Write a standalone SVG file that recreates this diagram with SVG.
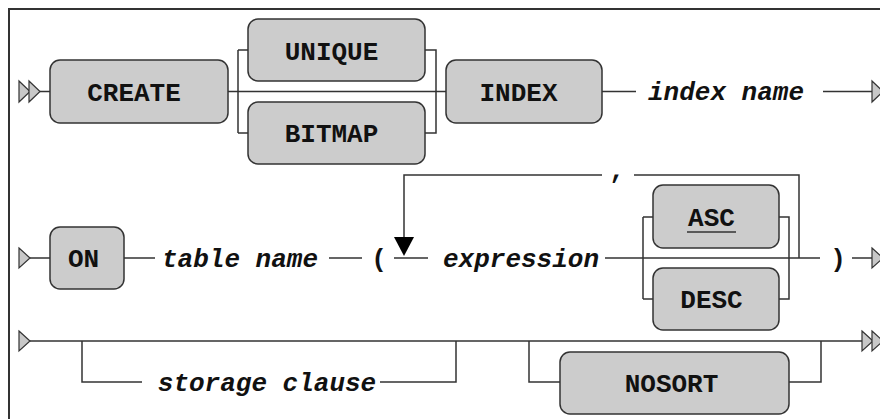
<svg xmlns="http://www.w3.org/2000/svg" width="880" height="419" viewBox="0 0 880 419">
<style>
.frame{fill:#ffffff;stroke:#333333;stroke-width:2}
.box{fill:#cccccc;stroke:#333333;stroke-width:1.5}
.ln{fill:none;stroke:#333333;stroke-width:1.5}
.tri{fill:#c8c8c8;stroke:#333333;stroke-width:1.2}
.kw{font-family:"Liberation Mono","Courier New",monospace;font-weight:bold;font-size:26px;fill:#111111;text-anchor:middle}
.nt{font-family:"Liberation Mono","Courier New",monospace;font-weight:bold;font-style:italic;font-size:26px;fill:#111111;text-anchor:middle}
</style>
<rect class="frame" x="9" y="9" width="900" height="450"/>
<g id="connectors">
<path class="ln" d="M40 91.5H50M228 91.5H446M238 50V133M238 50H248M238 133H248M425 50H436V133H425M602 91.5H636M823 91.5H872"/>
<path class="ln" d="M30 258H50M124 258H155M329 258H362M394 258H428M605 258H820M799 258V175H634M602 175H404V238M643 217V299M643 217H653M643 299H653M779 217H789V299H779M852 258H872"/>
<polygon points="394,237 414,237 404,256" fill="#000000"/>
<path class="ln" d="M30 341H862M82 341V382H142M380 382H456V341M529 341V382H560M789 382H821V341"/>
<polygon class="tri" points="19,81 30,91.5 19,102"/>
<polygon class="tri" points="29,81 40,91.5 29,102"/>
<polygon class="tri" points="872,81 883,91.5 872,102"/>
<polygon class="tri" points="19,248 30,258 19,268"/>
<polygon class="tri" points="872,248 883,258 872,268"/>
<polygon class="tri" points="19,331 30,341 19,351"/>
<polygon class="tri" points="862,331 873,341 862,351"/>
<polygon class="tri" points="872,331 883,341 872,351"/>
</g>
<g id="create"><rect class="box" x="50" y="60" width="178" height="63" rx="10"/><text class="kw" x="134" y="101">CREATE</text></g>
<g id="unique"><rect class="box" x="248" y="19" width="177" height="62" rx="10"/><text class="kw" x="331.5" y="60">UNIQUE</text></g>
<g id="bitmap"><rect class="box" x="248" y="102" width="177" height="62" rx="10"/><text class="kw" x="331.5" y="142">BITMAP</text></g>
<g id="index"><rect class="box" x="446" y="60" width="156" height="63" rx="10"/><text class="kw" x="518.5" y="101">INDEX</text></g>
<g id="index-name"><text class="nt" x="726" y="100">index name</text></g>
<g id="on"><rect class="box" x="50" y="227" width="74" height="62" rx="10"/><text class="kw" x="83.5" y="267">ON</text></g>
<g id="table-name"><text class="nt" x="240" y="267">table name</text></g>
<g id="lparen"><text class="kw" x="379" y="267">(</text></g>
<g id="expression"><text class="nt" x="521" y="267">expression</text></g>
<g id="comma"><text class="kw" x="617" y="178">,</text></g>
<g id="asc"><rect class="box" x="653" y="185" width="126" height="63" rx="10"/><text class="kw" x="711.5" y="226">ASC</text><line class="ln" x1="687" y1="232" x2="736" y2="232"/></g>
<g id="desc"><rect class="box" x="653" y="268" width="126" height="62" rx="10"/><text class="kw" x="711.5" y="308">DESC</text></g>
<g id="rparen"><text class="kw" x="838" y="267">)</text></g>
<g id="storage-clause"><text class="nt" x="267" y="391">storage clause</text></g>
<g id="nosort"><rect class="box" x="560" y="352" width="229" height="62" rx="10"/><text class="kw" x="671.5" y="392">NOSORT</text></g>
</svg>
